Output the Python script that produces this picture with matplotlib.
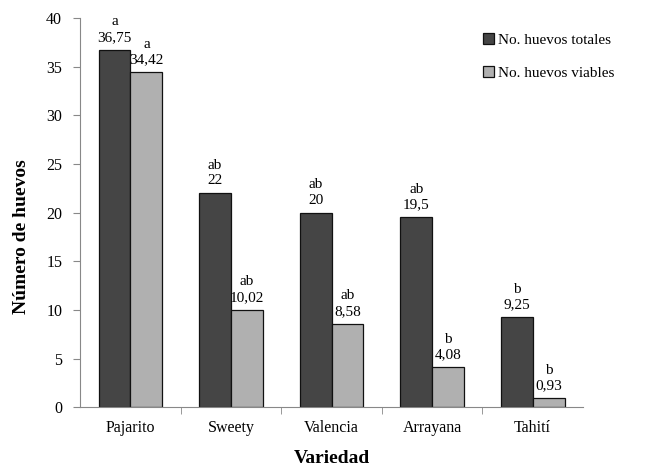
import matplotlib
matplotlib.use("Agg")
import matplotlib.pyplot as plt
import numpy as np

variedades = ["Pajarito", "Sweety", "Valencia", "Arrayana", "Tahití"]
totales = [36.75, 22, 20, 19.5, 9.25]
viables = [34.42, 10.02, 8.58, 4.08, 0.93]
totales_txt = ["36,75", "22", "20", "19,5", "9,25"]
viables_txt = ["34,42", "10,02", "8,58", "4,08", "0,93"]
letras_tot = ["a", "ab", "ab", "ab", "b"]
letras_via = ["a", "ab", "ab", "b", "b"]

plt.rcParams['font.family'] = ['Liberation Serif', 'DejaVu Serif']

fig = plt.figure(figsize=(6.47, 4.68), dpi=100)
ax = fig.add_axes([0.124, 0.130, 0.777, 0.8315])

x = np.arange(len(variedades))
w = 0.317
b1 = ax.bar(x - w / 2, totales, w, color='#454545', edgecolor='#111111', linewidth=0.9,
            label='No. huevos totales')
b2 = ax.bar(x + w / 2, viables, w, color='#b0b0b0', edgecolor='#111111', linewidth=0.9,
            label='No. huevos viables')

for i in range(len(x)):
    ax.text(x[i] - w / 2, totales[i] + 0.6, letras_tot[i] + "\n" + totales_txt[i],
            ha='center', va='bottom', fontsize=11, linespacing=1.25)
    ax.text(x[i] + w / 2, viables[i] + 0.6, letras_via[i] + "\n" + viables_txt[i],
            ha='center', va='bottom', fontsize=11, linespacing=1.25)

ax.set_xlim(-0.5, len(x) - 0.5)
ax.set_ylim(0, 40)
ax.set_yticks(range(0, 41, 5))
ax.set_xticks(x)
ax.set_xticklabels(variedades)
ax.set_xticks(np.arange(0.5, len(x) - 0.5, 1), minor=True)
ax.tick_params(axis='x', which='major', length=0, labelsize=11.5, pad=9)
ax.tick_params(axis='x', which='minor', length=5, color='#888888')
ax.tick_params(axis='y', labelsize=11.5, length=5, color='#888888', pad=8)
for s in ['top', 'right']:
    ax.spines[s].set_visible(False)
for s in ['left', 'bottom']:
    ax.spines[s].set_color('#888888')

ax.set_ylabel("Número de huevos", fontsize=14, fontweight='bold')
ax.yaxis.set_label_coords(-0.10, 0.437)
ax.set_xlabel("Variedad", fontsize=14, fontweight='bold', labelpad=10)

fig.legend(handles=[b1, b2], loc='upper left', bbox_to_anchor=(0.725, 0.958),
           frameon=False, fontsize=11, handlelength=0.7, handleheight=0.7,
           handletextpad=0.3, labelspacing=1.25)

fig.savefig("out.png", dpi=100)
